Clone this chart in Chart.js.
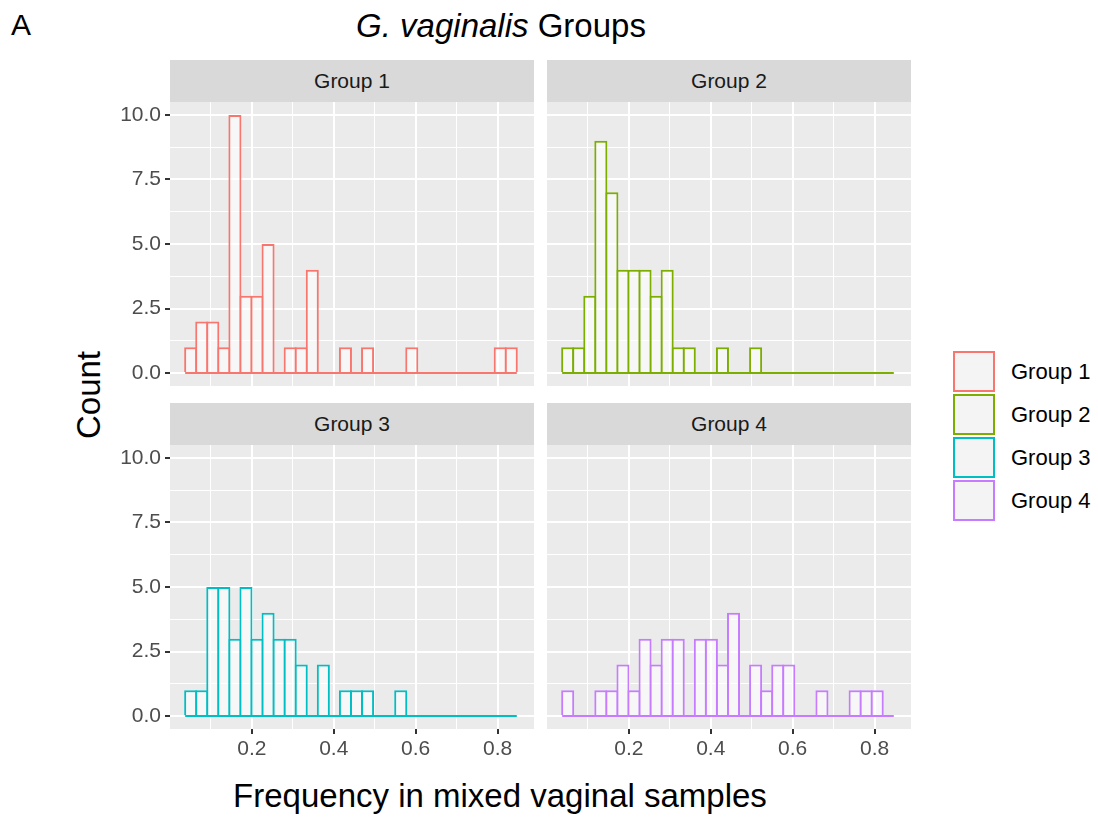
<!DOCTYPE html>
<html>
<head>
<meta charset="utf-8">
<script src="https://cdn.jsdelivr.net/npm/chart.js@4.4.1/dist/chart.umd.min.js"></script>
<style>
  body { margin: 0; background: #fff; font-family: "Liberation Sans", Arial, sans-serif; }
  #wrap { position: relative; width: 1098px; height: 818px; overflow: hidden; }
  canvas { position: absolute; }
  .txt { position: absolute; white-space: nowrap; line-height: 1; }
  .strip { position: absolute; background: #D9D9D9; color: #1A1A1A; font-size: 21px; text-align: center; }
  .key { position: absolute; width: 38px; height: 37px; border: 2px solid; background: #F4F4F4; }
</style>
</head>
<body>
<div id="wrap">
  <div class="txt" style="left:11px; top:10px; font-size:30px;">A</div>
  <div class="txt" style="left:0; width:1002px; top:9px; font-size:33px; text-align:center;"><i>G. vaginalis</i> Groups</div>
  <div class="txt" style="left:0; width:1000px; top:779px; font-size:33px; text-align:center;">Frequency in mixed vaginal samples</div>
  <div class="txt" style="left:88px; top:395px; font-size:33px; transform: translate(-50%, -50%) rotate(-90deg);">Count</div>
  <div id="legend"></div>
</div>
<script>
// histogram bins (centres), 30 bins of width ~0.027
var binCenters = [0.0505, 0.0775, 0.1045, 0.1315, 0.1585, 0.1855, 0.2125, 0.2395, 0.2665, 0.2935,
                  0.3205, 0.3475, 0.3745, 0.4015, 0.4285, 0.4555, 0.4825, 0.5095, 0.5365, 0.5635,
                  0.5905, 0.6175, 0.6445, 0.6715, 0.6985, 0.7255, 0.7525, 0.7795, 0.8065, 0.8335];
var binRange = [0.037, 0.847];

var groupNames = ['Group 1', 'Group 2', 'Group 3', 'Group 4'];
var groupColors = ['#F8766D', '#7CAE00', '#00BFC4', '#C77CFF'];

// counts per bin
var group1 = [1,2,2,1,10,3,3,5,0,1,1,4,0,0,1,0,1,0,0,0,1,0,0,0,0,0,0,0,1,1];
var group2 = [1,1,3,9,7,4,4,4,3,4,1,1,0,0,1,0,0,1,0,0,0,0,0,0,0,0,0,0,0,0];
var group3 = [1,1,5,5,3,5,3,4,3,3,2,0,2,0,1,1,1,0,0,1,0,0,0,0,0,0,0,0,0,0];
var group4 = [1,0,0,1,1,2,1,3,2,3,3,0,3,3,2,4,0,2,1,2,2,0,0,1,0,0,1,1,1,0];
var groupCounts = [group1, group2, group3, group4];

// axis ticks
var xMajor = [0.2, 0.4, 0.6, 0.8];
var xMinor = [0.1, 0.3, 0.5, 0.7];
var yMajor = [0, 2.5, 5, 7.5, 10];
var yMinor = [1.25, 3.75, 6.25, 8.75];
var xLimits = [0.0, 0.889];
var yLimits = [-0.5, 10.5];

// facet layout
var panelW = 364, panelH = 284, axisW = 80, axisH = 40;
var panels = [
  {group: 0, left: 170, top: 102, showX: false, showY: true},
  {group: 1, left: 547, top: 102, showX: false, showY: false},
  {group: 2, left: 170, top: 445, showX: true, showY: true},
  {group: 3, left: 547, top: 445, showX: true, showY: false}
];

var wrap = document.getElementById('wrap');

var panelBg = {
  id: 'panelBg',
  beforeDraw: function(chart) {
    var a = chart.chartArea, c = chart.ctx;
    c.save();
    c.fillStyle = '#EBEBEB';
    c.fillRect(a.left, a.top, a.right - a.left, a.bottom - a.top);
    c.restore();
  }
};

function sortedTicks(major, minor) {
  return major.concat(minor).sort(function(a, b) { return a - b; }).map(function(v) { return {value: v}; });
}

panels.forEach(function(p) {
  // strip
  var strip = document.createElement('div');
  strip.className = 'strip';
  strip.style.left = p.left + 'px';
  strip.style.top = (p.top - 42) + 'px';
  strip.style.width = panelW + 'px';
  strip.style.height = '42px';
  strip.style.lineHeight = '42px';
  strip.textContent = groupNames[p.group];
  wrap.appendChild(strip);

  var cv = document.createElement('canvas');
  cv.width = panelW + axisW;
  cv.height = panelH + axisH;
  cv.style.left = (p.left - axisW) + 'px';
  cv.style.top = p.top + 'px';
  wrap.appendChild(cv);

  var color = groupColors[p.group];
  var counts = groupCounts[p.group];

  new Chart(cv, {
    type: 'bar',
    data: {
      datasets: [{
        type: 'bar',
        data: binCenters.map(function(x, i) { return {x: x, y: counts[i]}; }),
        backgroundColor: 'rgba(255,255,255,0.6)',
        borderColor: color,
        borderWidth: 2,
        borderSkipped: 'start',
        inflateAmount: 0,
        barPercentage: 1.18,
        categoryPercentage: 1
      }, {
        type: 'line',
        data: [{x: binRange[0], y: 0}, {x: binRange[1], y: 0}],
        borderColor: color,
        borderWidth: 2,
        pointRadius: 0,
        fill: false
      }]
    },
    options: {
      responsive: false,
      animation: false,
      layout: {padding: 0},
      plugins: {legend: {display: false}, tooltip: {enabled: false}},
      scales: {
        x: {
          type: 'linear',
          min: xLimits[0], max: xLimits[1],
          offset: false,
          afterBuildTicks: function(s) { s.ticks = sortedTicks(xMajor, xMinor); },
          afterFit: function(s) { s.height = axisH; s.paddingLeft = 0; s.paddingRight = 0; },
          border: {display: false},
          grid: {
            offset: false,
            color: '#FFFFFF',
            lineWidth: function(c) { return xMajor.indexOf(c.tick.value) >= 0 ? 2 : 1; },
            drawTicks: true,
            tickLength: 5,
            tickWidth: 2,
            tickColor: function(c) { return p.showX && xMajor.indexOf(c.tick.value) >= 0 ? '#333333' : 'rgba(0,0,0,0)'; }
          },
          ticks: {
            autoSkip: false, maxRotation: 0, padding: 3,
            color: '#4D4D4D',
            font: {family: '"Liberation Sans", Arial, sans-serif', size: 21},
            callback: function(v) { return p.showX && xMajor.indexOf(v) >= 0 ? v.toFixed(1) : ''; }
          }
        },
        y: {
          type: 'linear',
          min: yLimits[0], max: yLimits[1],
          afterBuildTicks: function(s) { s.ticks = sortedTicks(yMajor, yMinor); },
          afterFit: function(s) { s.width = axisW; s.paddingTop = 0; s.paddingBottom = 0; },
          border: {display: false},
          grid: {
            color: '#FFFFFF',
            lineWidth: function(c) { return yMajor.indexOf(c.tick.value) >= 0 ? 2 : 1; },
            drawTicks: true,
            tickLength: 5,
            tickWidth: 2,
            tickColor: function(c) { return p.showY && yMajor.indexOf(c.tick.value) >= 0 ? '#333333' : 'rgba(0,0,0,0)'; }
          },
          ticks: {
            autoSkip: false, padding: 4,
            color: '#4D4D4D',
            font: {family: '"Liberation Sans", Arial, sans-serif', size: 21},
            callback: function(v) { return p.showY && yMajor.indexOf(v) >= 0 ? v.toFixed(1) : ''; }
          }
        }
      }
    },
    plugins: [panelBg]
  });
});

// legend
var legend = document.getElementById('legend');
groupNames.forEach(function(name, i) {
  var key = document.createElement('div');
  key.className = 'key';
  key.style.left = '953px';
  key.style.top = (351 + i * 43) + 'px';
  key.style.borderColor = groupColors[i];
  legend.appendChild(key);
  var lab = document.createElement('div');
  lab.className = 'txt';
  lab.style.left = '1011px';
  lab.style.top = (351 + i * 43 + 10) + 'px';
  lab.style.fontSize = '22px';
  lab.textContent = name;
  legend.appendChild(lab);
});
</script>
</body>
</html>
